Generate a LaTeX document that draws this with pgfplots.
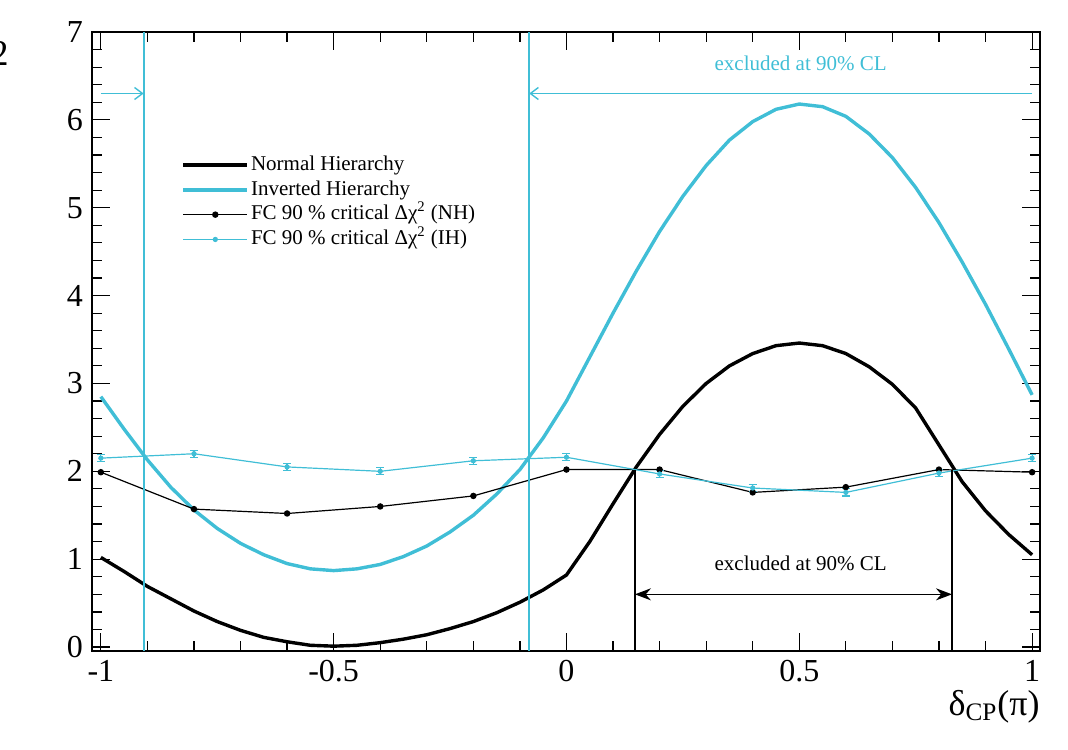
\documentclass[border=0pt]{standalone}
\usepackage{pgfplots}
\pgfplotsset{compat=1.18}
\usepackage{fontspec}
\setmainfont{Liberation Serif}
\usetikzlibrary{arrows.meta}
\definecolor{rcyan}{RGB}{64,190,214}

\pgfplotstableread{
x y
-1.00 1.02
-0.95 0.86
-0.90 0.69
-0.85 0.55
-0.80 0.41
-0.75 0.29
-0.70 0.19
-0.65 0.11
-0.60 0.06
-0.55 0.02
-0.50 0.01
-0.45 0.02
-0.40 0.05
-0.35 0.09
-0.30 0.14
-0.25 0.21
-0.20 0.29
-0.15 0.39
-0.10 0.51
-0.05 0.65
0.00 0.82
0.05 1.20
0.10 1.63
0.15 2.05
0.20 2.42
0.25 2.74
0.30 3.00
0.35 3.20
0.40 3.34
0.45 3.43
0.50 3.46
0.55 3.43
0.60 3.34
0.65 3.19
0.70 2.99
0.75 2.72
0.80 2.30
0.85 1.88
0.90 1.55
0.95 1.28
1.00 1.05
}\nhdata

\pgfplotstableread{
x y
-1.00 2.85
-0.95 2.48
-0.90 2.13
-0.85 1.82
-0.80 1.56
-0.75 1.35
-0.70 1.18
-0.65 1.05
-0.60 0.95
-0.55 0.89
-0.50 0.87
-0.45 0.89
-0.40 0.94
-0.35 1.03
-0.30 1.15
-0.25 1.31
-0.20 1.50
-0.15 1.74
-0.10 2.02
-0.05 2.38
0.00 2.80
0.05 3.30
0.10 3.80
0.15 4.28
0.20 4.73
0.25 5.13
0.30 5.48
0.35 5.77
0.40 5.98
0.45 6.12
0.50 6.18
0.55 6.15
0.60 6.04
0.65 5.84
0.70 5.57
0.75 5.23
0.80 4.83
0.85 4.38
0.90 3.90
0.95 3.39
1.00 2.87
}\ihdata

\pgfplotstableread{
x y
-1.0 1.99
-0.8 1.57
-0.6 1.52
-0.4 1.60
-0.2 1.72
0.0 2.02
0.2 2.02
0.4 1.76
0.6 1.82
0.8 2.02
1.0 1.99
}\fcnh

\pgfplotstableread{
x y e
-1.0 2.15 0.04
-0.8 2.20 0.04
-0.6 2.05 0.04
-0.4 2.00 0.04
-0.2 2.12 0.04
0.0 2.16 0.04
0.2 1.97 0.04
0.4 1.81 0.04
0.6 1.76 0.04
0.8 1.98 0.04
1.0 2.15 0.04
}\fcih

\begin{document}
\begin{tikzpicture}
\begin{axis}[
  at={(0pt,0pt)}, anchor=south west,
  scale only axis, width=474pt, height=309.5pt,
  xmin=-1.019, xmax=1.017, ymin=-0.045, ymax=7,
  xtick={-1,-0.5,0,0.5,1}, xticklabels={-1,-0.5,0,0.5,1},
  ytick={0,1,2,3,4,5,6,7},
  minor x tick num=4, minor y tick num=4,
  tick align=inside,
  major tick length=9pt, minor tick length=5pt,
  axis line style={line width=0.8pt},
  every tick/.style={black, line width=0.6pt},
  tick label style={font=\fontsize{16}{16}\selectfont},
  /pgf/number format/assume math mode=true,
  xticklabel style={yshift=-1pt},
  yticklabel style={xshift=-1pt},
  legend style={at={(0.092,0.808)}, anchor=north west, draw=none, fill=white,
    font=\fontsize{10.5}{12}\selectfont, row sep=0.6pt, inner sep=1pt,
    nodes={text height=7.5pt, text depth=2.3pt, inner sep=1pt, xshift=2pt}},
  legend cell align=left,
  legend image code/.code={\draw[mark repeat=2,mark phase=2,#1] plot coordinates {(0pt,0pt) (16pt,0pt) (32pt,0pt)};},
]
\addplot[black, line width=1.7pt, no marks] table {\nhdata};
\addlegendentry{Normal Hierarchy}
\addplot[rcyan, line width=1.7pt, no marks] table {\ihdata};
\addlegendentry{Inverted Hierarchy}
\addplot[black, line width=0.6pt, mark=*, mark size=1.3pt] table {\fcnh};
\addlegendentry{FC 90 \% critical Δχ\textsuperscript{2} (NH)}
\addplot[rcyan, line width=0.6pt, mark=*, mark size=1pt,
  error bars/.cd, y dir=both, y explicit,
  error bar style={line width=0.6pt},
  error mark options={rotate=90, mark size=2pt, line width=0.6pt}]
  table[x=x, y=y, y error=e] {\fcih};
\addlegendentry{FC 90 \% critical Δχ\textsuperscript{2} (IH)}

\addplot[rcyan, line width=1pt, forget plot] coordinates {(-0.908,-0.045) (-0.908,7)};
\addplot[rcyan, line width=1pt, forget plot] coordinates {(-0.080,-0.045) (-0.080,7)};
\addplot[black, line width=0.8pt, forget plot] coordinates {(0.147,-0.045) (0.147,2.02)};
\addplot[black, line width=0.8pt, forget plot] coordinates {(0.828,-0.045) (0.828,2.02)};

\draw[rcyan, line width=0.7pt, -{Straight Barb[length=4pt,width=6pt]}] (axis cs:-1,6.30) -- (axis cs:-0.908,6.30);
\draw[rcyan, line width=0.7pt, -{Straight Barb[length=4pt,width=6pt]}] (axis cs:1,6.30) -- (axis cs:-0.080,6.30);
\draw[black, line width=0.8pt, {Stealth[length=8pt,width=6pt]}-{Stealth[length=8pt,width=6pt]}] (axis cs:0.147,0.60) -- (axis cs:0.828,0.60);
\node[text=rcyan, font=\fontsize{10.5}{12}\selectfont] at (axis cs:0.503,6.64) {excluded at 90\% CL};
\node[text=black, font=\fontsize{10.5}{12}\selectfont] at (axis cs:0.503,0.95) {excluded at 90\% CL};
\end{axis}
\node[anchor=base east, font=\fontsize{18}{18}\selectfont, inner sep=0pt] at (474pt,-32pt) {δ\textsubscript{CP}(π)};
\node[anchor=north east, font=\fontsize{26}{26}\selectfont, inner sep=0pt] at (-41pt,305pt) {Δχ\textsuperscript{2}};
\pgfresetboundingbox
\path (-46pt,-49pt) rectangle (488pt,325.5pt);
\end{tikzpicture}
\end{document}
